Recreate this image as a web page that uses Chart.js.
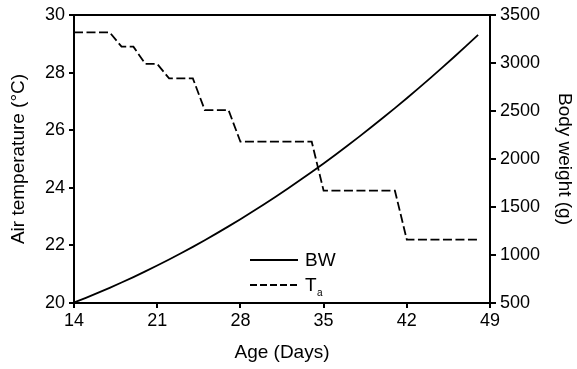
<!DOCTYPE html>
<html>
<head>
<meta charset="utf-8">
<script src="https://cdn.jsdelivr.net/npm/chart.js@4.4.1/dist/chart.umd.min.js"></script>
<style>
html,body{margin:0;padding:0;background:#fff;}
#wrap{width:577px;height:369px;}
</style>
</head>
<body>
<div id="wrap"><canvas id="c" width="577" height="369"></canvas></div>
<script>
// ---- data ----
const days = [14,15,16,17,18,19,20,21,22,23,24,25,26,27,28,29,30,31,32,33,34,35,36,37,38,39,40,41,42,43,44,45,46,47,48];
const bodyWeight = [505,554,605,658,713,770,829,890,953,1018,1085,1154,1225,1298,1373,1450,1529,1610,1693,1778,1865,1954,2045,2138,2233,2330,2429,2530,2633,2738,2845,2954,3065,3178,3293];
const airTemp = [29.4,29.4,29.4,29.4,28.9,28.9,28.3,28.3,27.8,27.8,27.8,26.7,26.7,26.7,25.6,25.6,25.6,25.6,25.6,25.6,25.6,23.9,23.9,23.9,23.9,23.9,23.9,23.9,22.2,22.2,22.2,22.2,22.2,22.2,22.2];
const xTickValues = [14,21,28,35,42,49];
const leftTickValues = [20,22,24,26,28,30];
const rightTickValues = [500,1000,1500,2000,2500,3000,3500];

const FONT = "'Liberation Sans', Arial, Helvetica, sans-serif";
const TICK_SIZE = 18, TITLE_SIZE = 19;
Chart.defaults.font.family = FONT;
Chart.defaults.font.size = TICK_SIZE;
Chart.defaults.color = '#000';

const bwPoints = days.map((d,i)=>({x:d,y:bodyWeight[i]}));
const taPoints = days.map((d,i)=>({x:d,y:airTemp[i]}));

const frameAndLegend = {
  id:'frameAndLegend',
  afterDraw(chart){
    const {ctx, chartArea:a} = chart;
    ctx.save();
    // top frame line
    ctx.strokeStyle='#000'; ctx.lineWidth=2;
    ctx.beginPath(); ctx.moveTo(a.left-1, a.top); ctx.lineTo(a.right+1, a.top); ctx.stroke();
    // legend
    const lx0=250, lx1=298, tx=305;
    ctx.lineWidth=2; ctx.setLineDash([]);
    ctx.beginPath(); ctx.moveTo(lx0,260); ctx.lineTo(lx1,260); ctx.stroke();
    ctx.setLineDash([7,3]);
    ctx.beginPath(); ctx.moveTo(lx0,285); ctx.lineTo(lx1,285); ctx.stroke();
    ctx.setLineDash([]);
    ctx.fillStyle='#000';
    ctx.textBaseline='middle'; ctx.textAlign='left';
    ctx.font = TITLE_SIZE + "px " + FONT;
    ctx.fillText(chart.data.datasets[0].label, tx, 261);
    ctx.fillText('T', tx, 286);
    const tw = ctx.measureText('T').width;
    ctx.font = "10px " + FONT;
    ctx.fillText('a', tx+tw+0.5, 293);
    ctx.restore();
  }
};

const axisLine = {display:true, color:'#000', width:2};
const tickGrid = {drawOnChartArea:false, drawTicks:true, tickLength:5, color:'#000', lineWidth:2};
const plain = v => String(v);

new Chart(document.getElementById('c'), {
  type:'line',
  data:{
    datasets:[
      {label:'BW', data:bwPoints, yAxisID:'yR', borderColor:'#000', borderWidth:1.8, pointRadius:0, fill:false, tension:0},
      {label:'Ta', data:taPoints, yAxisID:'yL', borderColor:'#000', borderWidth:1.8, borderDash:[9,3.5], pointRadius:0, fill:false, tension:0}
    ]
  },
  options:{
    responsive:false, animation:false, devicePixelRatio:1,
    layout:{padding:{top:15,left:0,right:0,bottom:0}},
    plugins:{legend:{display:false}, tooltip:{enabled:false}},
    scales:{
      x:{type:'linear', position:'bottom', min:14, max:49,
        afterBuildTicks:s=>{s.ticks = xTickValues.map(v=>({value:v}));},
        afterFit:s=>{s.height=66;},
        ticks:{padding:2, font:{size:TICK_SIZE}, color:'#000', maxRotation:0, callback:plain},
        grid:tickGrid, border:axisLine,
        title:{display:true, text:'Age (Days)', font:{size:TITLE_SIZE}, color:'#000', padding:{top:0,bottom:5}}},
      yL:{type:'linear', position:'left', min:20, max:30,
        afterBuildTicks:s=>{s.ticks = leftTickValues.map(v=>({value:v}));},
        afterFit:s=>{s.width=74;},
        ticks:{padding:4, font:{size:TICK_SIZE}, color:'#000', callback:plain},
        grid:tickGrid, border:axisLine,
        title:{display:true, text:'Air temperature (°C)', font:{size:TITLE_SIZE}, color:'#000', padding:{top:7,bottom:0}}},
      yR:{type:'linear', position:'right', min:500, max:3500,
        afterBuildTicks:s=>{s.ticks = rightTickValues.map(v=>({value:v}));},
        afterFit:s=>{s.width=87;},
        ticks:{padding:4, font:{size:TICK_SIZE}, color:'#000', callback:plain},
        grid:Object.assign({}, tickGrid, {tickLength:6}), border:axisLine,
        title:{display:true, text:'Body weight (g)', font:{size:TITLE_SIZE}, color:'#000', padding:{top:1,bottom:0}}}
    }
  },
  plugins:[frameAndLegend]
});
</script>
</body>
</html>
